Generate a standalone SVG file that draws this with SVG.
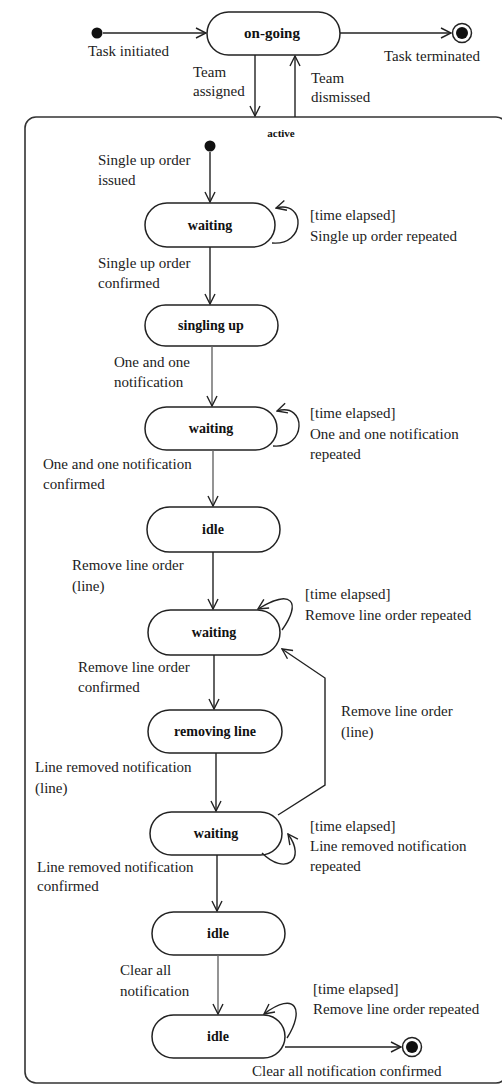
<svg xmlns="http://www.w3.org/2000/svg" width="502" height="1085" viewBox="0 0 502 1085">
<style>
.node{fill:#fff;stroke:#222;stroke-width:1.5}
.nl{font-family:"Liberation Serif","Times New Roman",serif;font-size:14px;font-weight:bold;text-anchor:middle;fill:#111}
.lb{font-family:"Liberation Serif","Times New Roman",serif;font-size:15px;fill:#222}
.ed{fill:none;stroke:#222;stroke-width:1.4}
.gr{stroke:#666}
</style>
<defs>
<marker id="a" viewBox="0 0 12 12" refX="11" refY="6" markerWidth="12" markerHeight="12" markerUnits="userSpaceOnUse" orient="auto">
<path d="M1,1 L11,6 L1,11" fill="none" stroke="#222" stroke-width="1.4"/>
</marker>
</defs>
<rect width="502" height="1085" fill="#fff"/>

<g id="composite-active">
<rect x="25" y="117" width="482" height="966" rx="11" fill="none" stroke="#333" stroke-width="1.6"/>
<text x="281" y="137" class="nl" style="font-size:11px">active</text>
</g>

<g id="start-top"><circle cx="97" cy="33" r="5.5" fill="#111"/></g>
<g id="end-top"><circle cx="462" cy="33" r="9.5" fill="#fff" stroke="#222" stroke-width="1.5"/><circle cx="462" cy="33" r="6" fill="#111"/></g>
<g id="on-going"><rect class="node" x="207" y="12" width="133" height="43" rx="21.5"/><text class="nl" x="272" y="38" style="font-size:15px">on-going</text></g>

<g id="start-inner"><circle cx="210" cy="146" r="5.5" fill="#111"/></g>
<g id="waiting1"><rect class="node" x="145" y="203" width="130" height="44" rx="22"/><text class="nl" x="210" y="230">waiting</text></g>
<g id="singling-up"><rect class="node" x="145" y="305" width="133" height="41" rx="20.5"/><text class="nl" x="211" y="330">singling up</text></g>
<g id="waiting2"><rect class="node" x="145" y="407" width="132" height="43" rx="21.5"/><text class="nl" x="211" y="433">waiting</text></g>
<g id="idle1"><rect class="node" x="147" y="507" width="133" height="45" rx="22.5"/><text class="nl" x="213" y="534">idle</text></g>
<g id="waiting3"><rect class="node" x="148" y="610" width="132" height="45" rx="22.5"/><text class="nl" x="214" y="637">waiting</text></g>
<g id="removing-line"><rect class="node" x="148" y="710" width="134" height="43" rx="21.5"/><text class="nl" x="215" y="736">removing line</text></g>
<g id="waiting4"><rect class="node" x="150" y="812" width="132" height="43" rx="21.5"/><text class="nl" x="216" y="838">waiting</text></g>
<g id="idle2"><rect class="node" x="152" y="912" width="133" height="43" rx="21.5"/><text class="nl" x="218" y="938">idle</text></g>
<g id="idle3"><rect class="node" x="152" y="1015" width="133" height="43" rx="21.5"/><text class="nl" x="218" y="1041">idle</text></g>
<g id="end-bottom"><circle cx="412" cy="1047" r="9.5" fill="#fff" stroke="#222" stroke-width="1.5"/><circle cx="412" cy="1047" r="6" fill="#111"/></g>

<g id="connectors">
<path class="ed" d="M103,33 L206,33" marker-end="url(#a)"/>
<path class="ed" d="M340,33 L451,33" marker-end="url(#a)"/>
<path class="ed" d="M255,55 L255,116" marker-end="url(#a)"/>
<path class="ed" d="M295,117 L295,56" marker-end="url(#a)"/>
<path class="ed" d="M210,152 L210,202" marker-end="url(#a)"/>
<path class="ed" d="M272,243 C306,246 306,200 276,208" marker-end="url(#a)"/>
<path class="ed" d="M210,247 L210,304" marker-end="url(#a)"/>
<path class="ed gr" d="M212,346 L212,406" marker-end="url(#a)"/>
<path class="ed" d="M273,446 C307,449 307,402 277,411" marker-end="url(#a)"/>
<path class="ed gr" d="M213,450 L213,506" marker-end="url(#a)"/>
<path class="ed" d="M213,552 L213,609" marker-end="url(#a)"/>
<path class="ed" d="M282,630 C302,602 292,588 258,609" marker-end="url(#a)"/>
<path class="ed" d="M214,655 L214,709" marker-end="url(#a)"/>
<path class="ed" d="M278,815 L325,785 L325,678 L282,649" marker-end="url(#a)"/>
<path class="ed" d="M216,753 L216,811" marker-end="url(#a)"/>
<path class="ed" d="M262,853 C285,876 307,860 288,834" marker-end="url(#a)"/>
<path class="ed" d="M217,855 L217,911" marker-end="url(#a)"/>
<path class="ed gr" d="M218,955 L218,1014" marker-end="url(#a)"/>
<path class="ed" d="M287,1038 C305,1010 296,990 264,1014" marker-end="url(#a)"/>
<path class="ed" d="M285,1047 L401,1047" marker-end="url(#a)"/>
</g>

<g id="labels">
<text class="lb" x="88" y="56">Task initiated</text>
<text class="lb" x="384" y="61">Task terminated</text>
<text class="lb" x="193" y="77">Team</text>
<text class="lb" x="193" y="96">assigned</text>
<text class="lb" x="311" y="83">Team</text>
<text class="lb" x="311" y="102">dismissed</text>
<text class="lb" x="98" y="165">Single up order</text>
<text class="lb" x="98" y="185">issued</text>
<text class="lb" x="310" y="220">[time elapsed]</text>
<text class="lb" x="310" y="241">Single up order repeated</text>
<text class="lb" x="98" y="268">Single up order</text>
<text class="lb" x="98" y="288">confirmed</text>
<text class="lb" x="114" y="367">One and one</text>
<text class="lb" x="114" y="387">notification</text>
<text class="lb" x="310" y="418">[time elapsed]</text>
<text class="lb" x="310" y="439">One and one notification</text>
<text class="lb" x="310" y="459">repeated</text>
<text class="lb" x="43" y="469">One and one notification</text>
<text class="lb" x="43" y="489">confirmed</text>
<text class="lb" x="72" y="570">Remove line order</text>
<text class="lb" x="72" y="591">(line)</text>
<text class="lb" x="305" y="599">[time elapsed]</text>
<text class="lb" x="305" y="620">Remove line order repeated</text>
<text class="lb" x="78" y="672">Remove line order</text>
<text class="lb" x="78" y="692">confirmed</text>
<text class="lb" x="341" y="716">Remove line order</text>
<text class="lb" x="341" y="737">(line)</text>
<text class="lb" x="35" y="772">Line removed notification</text>
<text class="lb" x="35" y="793">(line)</text>
<text class="lb" x="310" y="831">[time elapsed]</text>
<text class="lb" x="310" y="851">Line removed notification</text>
<text class="lb" x="310" y="871">repeated</text>
<text class="lb" x="37" y="872">Line removed notification</text>
<text class="lb" x="37" y="891">confirmed</text>
<text class="lb" x="120" y="975">Clear all</text>
<text class="lb" x="120" y="996">notification</text>
<text class="lb" x="313" y="994">[time elapsed]</text>
<text class="lb" x="313" y="1014">Remove line order repeated</text>
<text class="lb" x="252" y="1076">Clear all notification confirmed</text>
</g>
</svg>
